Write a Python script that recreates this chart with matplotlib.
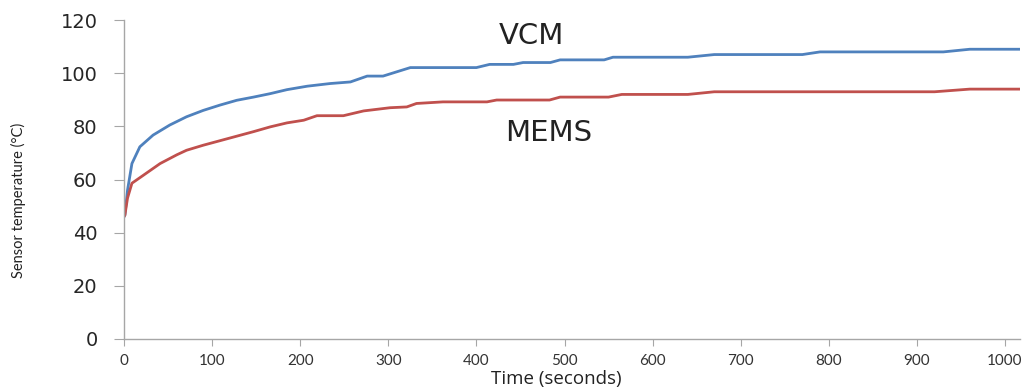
import matplotlib
matplotlib.use("Agg")
import matplotlib.pyplot as plt

# Data
vcm_t = [0, 1, 4, 9, 18, 33, 52, 71, 90, 109, 128, 147, 166, 185, 208, 234, 257, 276,
         294, 325, 400, 415, 442, 453, 484, 495, 545, 555, 640, 670, 770, 790, 930,
         960, 1030]
vcm_y = [46, 46.6, 56, 66, 72.3, 76.7, 80.5, 83.6, 86, 88, 89.8, 91, 92.3, 93.8, 95.1,
         96.1, 96.7, 98.9, 98.9, 102.1, 102.1, 103.3, 103.3, 104, 104, 105, 105, 106,
         106, 107, 107, 108, 108, 109, 109]

mems_t = [0, 1, 4, 9, 22, 41, 60, 71, 90, 109, 128, 147, 166, 185, 204, 219, 249, 272,
          302, 321, 332, 362, 412, 423, 483, 495, 550, 565, 640, 670, 920, 960, 1030]
mems_y = [46, 46.6, 53, 58.6, 61.6, 66, 69.3, 71.0, 72.9, 74.6, 76.3, 78, 79.8, 81.3,
          82.3, 84, 84, 85.8, 87, 87.3, 88.6, 89.2, 89.2, 89.9, 89.9, 91, 91, 92, 92,
          93, 93, 94, 94]

x_ticks = [0, 100, 200, 300, 400, 500, 600, 700, 800, 900, 1000]
y_ticks = [0, 20, 40, 60, 80, 100, 120]

fig = plt.figure(figsize=(10.23, 3.92), dpi=100)
ax = fig.add_axes([124/1023, 1-339/392, (1020-124)/1023, (339-20)/392])

ax.plot(vcm_t, vcm_y, color="#4f81bd", lw=2.0)
ax.plot(mems_t, mems_y, color="#c0504d", lw=2.0)

ax.set_xlim(0, 1017)
ax.set_ylim(0, 120)
ax.set_xticks(x_ticks)
ax.set_yticks(y_ticks)

for s in ["top", "right"]:
    ax.spines[s].set_visible(False)
for s in ["left", "bottom"]:
    ax.spines[s].set_color("#a6a6a6")
    ax.spines[s].set_linewidth(1.0)

ax.tick_params(axis="y", direction="out", length=7, color="#a6a6a6", pad=12,
               labelsize=14, labelcolor="#262626")
ax.tick_params(axis="x", direction="out", length=5, color="#a6a6a6", pad=6,
               labelsize=11, labelcolor="#333333")
for lab in ax.get_xticklabels():
    lab.set_family("Lato")
for lab in ax.get_yticklabels():
    lab.set_family("DejaVu Sans")

ax.set_xlabel("Time (seconds)", family="Open Sans", fontsize=13.5, color="#222222")
ax.xaxis.set_label_coords((556 - 124) / 896, -0.098)
ax.set_ylabel("Sensor temperature (°C)", family="Lato", fontsize=10.5, color="#222222")
ax.yaxis.set_label_coords((26 - 124) / 896, (339 - 200) / 319)

ax.text(463, 114, "VCM", family="DejaVu Sans", fontsize=21, color="#222222",
        ha="center", va="center")
ax.text(482, 77.4, "MEMS", family="DejaVu Sans", fontsize=21, color="#222222",
        ha="center", va="center")

fig.savefig("out.png", dpi=100, facecolor="white")
